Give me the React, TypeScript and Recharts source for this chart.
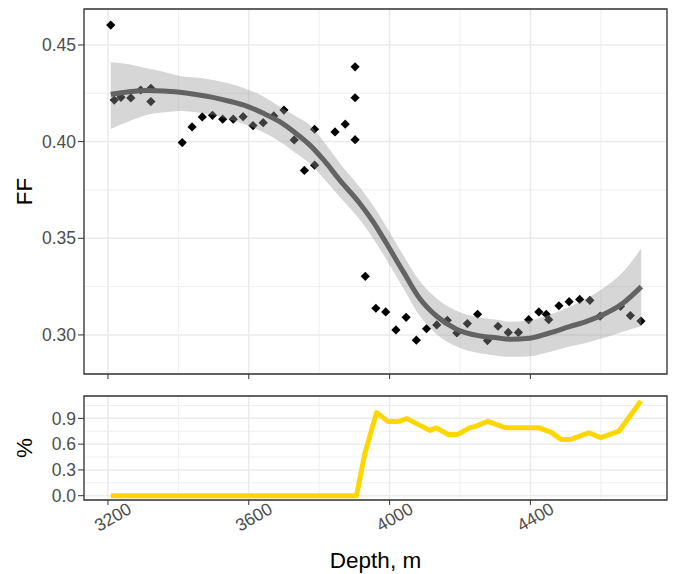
import React from "react";
import {
  ComposedChart,
  Scatter,
  Line,
  Area,
  XAxis,
  YAxis,
  CartesianGrid,
  ReferenceArea,
} from "recharts";

// measured FF points (depth, m)
const pointDepth = [
  3208, 3218, 3237, 3265, 3293, 3322, 3322, 3411, 3439, 3468, 3497, 3526, 3556, 3584,
  3612, 3641, 3671, 3700, 3729, 3758, 3787, 3787, 3845, 3874, 3902, 3902, 3902, 3931,
  3961, 3989, 4018, 4047, 4076, 4105, 4134, 4164, 4191, 4221, 4250, 4278, 4308, 4337,
  4366, 4395, 4424, 4445, 4452, 4481, 4510, 4540, 4569, 4598, 4656, 4684, 4714,
];
const pointFF = [
  0.4603, 0.4215, 0.4229, 0.4226, 0.4267, 0.4276, 0.4207, 0.3995, 0.4076, 0.4128, 0.4136,
  0.4116, 0.4116, 0.4129, 0.4083, 0.4098, 0.4133, 0.4163, 0.4009, 0.3851, 0.3878, 0.4064,
  0.405, 0.409, 0.4387, 0.4227, 0.401, 0.3303, 0.3138, 0.3119, 0.3026, 0.3091, 0.2973,
  0.3032, 0.3052, 0.3076, 0.301, 0.3059, 0.3107, 0.2971, 0.3045, 0.3013, 0.3013, 0.3079,
  0.3119, 0.3107, 0.3079, 0.3151, 0.3172, 0.3184, 0.3179, 0.3097, 0.3148, 0.31, 0.3072,
];

// smoothed trend with confidence band
const smoothDepth = [
  3208, 3260, 3310, 3360, 3404, 3450, 3498, 3545, 3594, 3640, 3688, 3730, 3773, 3815,
  3858, 3915, 3953, 3991, 4038, 4085, 4133, 4190, 4256, 4304, 4341, 4398, 4454, 4511,
  4560, 4610, 4660, 4715,
];
const smoothFit = [
  0.4245, 0.4258, 0.4264, 0.4262, 0.4255, 0.4244, 0.4229, 0.4209, 0.4184, 0.4148, 0.4103,
  0.4048, 0.3983, 0.39, 0.3802, 0.3681, 0.3586, 0.3474, 0.333, 0.319, 0.3098, 0.303,
  0.2995, 0.2985, 0.2978, 0.2983, 0.301, 0.3043, 0.307, 0.3108, 0.316, 0.325,
];
const smoothLo = [
  0.4065, 0.4105, 0.4138, 0.4152, 0.4159, 0.4152, 0.4138, 0.4115, 0.4086, 0.405, 0.4,
  0.3945, 0.3888, 0.3805, 0.3715, 0.3597, 0.35, 0.339, 0.3245, 0.31, 0.3005, 0.294,
  0.2905, 0.2893, 0.2887, 0.289, 0.2912, 0.294, 0.296, 0.2985, 0.3015, 0.3045,
];
const smoothHi = [
  0.4411, 0.44, 0.4379, 0.436, 0.434, 0.4332, 0.4319, 0.43, 0.4271, 0.4235, 0.4181,
  0.4135, 0.4086, 0.3995, 0.389, 0.3765, 0.367, 0.356, 0.3415, 0.328, 0.319, 0.3125,
  0.309, 0.3078, 0.3068, 0.3075, 0.3105, 0.3145, 0.319, 0.3245, 0.332, 0.3448,
];

// share (%) panel
const shareDepth = [
  3208, 3906, 3929, 3963, 3996, 4024, 4049, 4081, 4114, 4133, 4166, 4194, 4227, 4246,
  4279, 4322, 4335, 4425, 4458, 4487, 4515, 4567, 4600, 4652, 4714,
];
const shareValue = [
  0, 0, 0.48, 0.967, 0.862, 0.862, 0.897, 0.83, 0.76, 0.79, 0.713, 0.713, 0.79, 0.81,
  0.865, 0.8, 0.79, 0.79, 0.74, 0.655, 0.655, 0.733, 0.675, 0.752, 1.102,
];

const xTicks = [3200, 3600, 4000, 4400];
const xMinor = [3400, 3800, 4200, 4600];
const ffTicks = [0.3, 0.35, 0.4, 0.45];
const ffMinor = [0.325, 0.375, 0.425];
const shareTicks = [0, 0.3, 0.6, 0.9];
const shareMinor = [0.15, 0.45, 0.75, 1.05];

const X_DOMAIN = [3132, 4788];
const FF_DOMAIN = [0.2798, 0.4686];
const SHARE_DOMAIN = [-0.05, 1.16];

const points = pointDepth.map((depth, i) => ({ depth, ff: pointFF[i] }));
const smoothRows = smoothDepth.map((depth, i) => ({
  depth,
  fit: smoothFit[i],
  band: [smoothLo[i], smoothHi[i]],
}));
const shareRows = shareDepth.map((depth, i) => ({ depth, share: shareValue[i] }));

const FONT = "'Liberation Sans', Arial, Helvetica, sans-serif";
const tickStyle = { fill: "#4D4D4D", fontSize: 17.5, fontFamily: FONT };
const TOP_MARGIN = { top: 9, right: 6, bottom: 6, left: 0 };

const Diamond = (props: any) => {
  const { cx, cy } = props;
  if (cx == null || cy == null) return null;
  const r = 4.6;
  return (
    <polygon
      points={`${cx},${cy - r} ${cx + r},${cy} ${cx},${cy + r} ${cx - r},${cy}`}
      fill="#000"
    />
  );
};

const RotTick = (props: any) => {
  const { x, y, payload } = props;
  return (
    <text
      transform={`translate(${x + 5},${y + 12}) rotate(-30)`}
      textAnchor="middle"
      dominantBaseline="central"
      {...tickStyle}
    >
      {payload.value}
    </text>
  );
};

const YTitle = (text: string) => (props: any) => {
  const vb = props.viewBox || {};
  const cx = 24;
  const cy = vb.y + vb.height / 2;
  return (
    <text
      transform={`translate(${cx},${cy}) rotate(-90)`}
      textAnchor="middle"
      dominantBaseline="central"
      fill="#000"
      fontSize={22.5}
      fontFamily={FONT}
    >
      {text}
    </text>
  );
};

const XTitle = (props: any) => {
  const vb = props.viewBox || {};
  return (
    <text
      x={vb.x + vb.width / 2}
      y={vb.y + 68}
      textAnchor="middle"
      fill="#000"
      fontSize={22.5}
      fontFamily={FONT}
    >
      Depth, m
    </text>
  );
};

export default function App() {
  return (
    <div
      style={{
        position: "absolute",
        left: 0,
        top: 0,
        width: 673,
        height: 574,
        background: "#fff",
        fontFamily: FONT,
      }}
    >
      <div style={{ position: "relative", width: 673, height: 390 }}>
        {/* layer 1: grid, axes, points */}
        <ComposedChart width={673} height={390} data={smoothRows} margin={TOP_MARGIN}>
          <CartesianGrid
            stroke="#EBEBEB"
            strokeWidth={0.8}
            verticalValues={xMinor}
            horizontalValues={ffMinor}
          />
          <CartesianGrid stroke="#EBEBEB" strokeWidth={1.5} />
          <XAxis
            dataKey="depth"
            type="number"
            domain={X_DOMAIN}
            ticks={xTicks}
            interval={0}
            allowDataOverflow
            height={10}
            tickSize={5}
            axisLine={false}
            tickLine={{ stroke: "#333333" }}
            tick={() => <g />}
          />
          <YAxis
            type="number"
            domain={FF_DOMAIN}
            ticks={ffTicks}
            interval={0}
            allowDataOverflow
            width={84}
            tickSize={6}
            tickMargin={2}
            axisLine={false}
            tickLine={{ stroke: "#333333" }}
            tick={tickStyle}
            tickFormatter={(v: number) => v.toFixed(2)}
            label={YTitle("FF")}
          />
          <Scatter data={points} dataKey="ff" shape={Diamond} isAnimationActive={false} />
        </ComposedChart>
        {/* layer 2: smooth band and line drawn over the points */}
        <div style={{ position: "absolute", left: 0, top: 0 }}>
          <ComposedChart width={673} height={390} data={smoothRows} margin={TOP_MARGIN}>
            <XAxis
              dataKey="depth"
              type="number"
              domain={X_DOMAIN}
              ticks={xTicks}
              allowDataOverflow
              height={10}
              axisLine={false}
              tickLine={false}
              tick={false}
            />
            <YAxis
              type="number"
              domain={FF_DOMAIN}
              ticks={ffTicks}
              allowDataOverflow
              width={84}
              axisLine={false}
              tickLine={false}
              tick={false}
            />
            <Area
              dataKey="band"
              type="monotone"
              fill="#999999"
              fillOpacity={0.4}
              stroke="none"
              isAnimationActive={false}
            />
            <Line
              dataKey="fit"
              type="monotone"
              stroke="#636363"
              strokeWidth={5}
              dot={false}
              isAnimationActive={false}
            />
            <ReferenceArea
              x1={X_DOMAIN[0]}
              x2={X_DOMAIN[1]}
              y1={FF_DOMAIN[0]}
              y2={FF_DOMAIN[1]}
              fill="none"
              stroke="#333333"
              strokeWidth={1.3}
              ifOverflow="visible"
            />
          </ComposedChart>
        </div>
      </div>
      <ComposedChart
        width={673}
        height={184}
        data={shareRows}
        margin={{ top: 6, right: 6, bottom: 0, left: 0 }}
      >
        <CartesianGrid
          stroke="#EBEBEB"
          strokeWidth={0.8}
          verticalValues={xMinor}
          horizontalValues={shareMinor}
        />
        <CartesianGrid stroke="#EBEBEB" strokeWidth={1.5} />
        <XAxis
          dataKey="depth"
          type="number"
          domain={X_DOMAIN}
          ticks={xTicks}
          interval={0}
          allowDataOverflow
          height={74}
          tickSize={5}
          tickMargin={0}
          axisLine={false}
          tickLine={{ stroke: "#333333" }}
          tick={RotTick}
          label={XTitle}
        />
        <YAxis
          type="number"
          domain={SHARE_DOMAIN}
          ticks={shareTicks}
          interval={0}
          allowDataOverflow
          width={84}
          tickSize={6}
          tickMargin={2}
          axisLine={false}
          tickLine={{ stroke: "#333333" }}
          tick={tickStyle}
          tickFormatter={(v: number) => v.toFixed(1)}
          label={YTitle("%")}
        />
        <Line
          dataKey="share"
          type="linear"
          stroke="#FFD700"
          strokeWidth={5}
          strokeLinejoin="round"
          dot={false}
          isAnimationActive={false}
        />
        <ReferenceArea
          x1={X_DOMAIN[0]}
          x2={X_DOMAIN[1]}
          y1={SHARE_DOMAIN[0]}
          y2={SHARE_DOMAIN[1]}
          fill="none"
          stroke="#333333"
          strokeWidth={1.3}
          ifOverflow="visible"
        />
      </ComposedChart>
    </div>
  );
}
